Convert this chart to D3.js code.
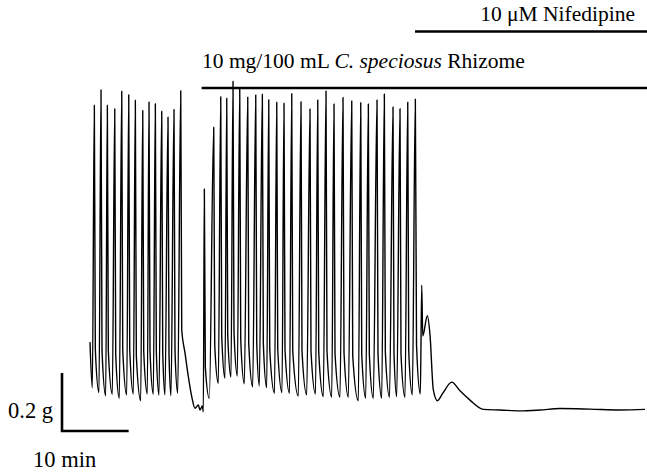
<!DOCTYPE html>
<html>
<head>
<meta charset="utf-8">
<script src="https://cdn.jsdelivr.net/npm/d3@7"></script>
<style>
body { margin: 0; background: #fff; }
svg text { font-family: "Liberation Serif", "Times New Roman", serif; font-size: 21.5px; fill: #000; }
svg text.scale-label { font-size: 22.5px; }
</style>
</head>
<body>
<div id="chart"></div>
<script>
// time in min, tension in g
var startPoint = [0.00, 0.234];

// control twitches: trough before each peak, then the peak
var ctrlTroughs = [[0.35,0.076],[1.35,0.060],[2.36,0.049],[3.35,0.054],[4.40,0.040],[5.51,0.052],[6.50,0.055],
    [7.61,0.032],[8.60,0.055],[9.50,0.054],[10.35,0.051],[11.25,0.052],[12.15,0.049],[13.16,0.058]];
var ctrlPeaks = [[0.65,1.051],[1.65,1.104],[2.60,1.051],[3.71,1.039],[4.76,1.099],[5.81,1.087],[6.80,1.068],
    [7.91,1.033],[8.85,1.062],[9.80,1.056],[10.76,1.030],[11.70,1.010],[12.60,1.036],[13.61,1.101]];

// relaxation before the extract goes in
var washDecay = [[13.76,0.276],[14.25,0.197],[14.75,0.115],[15.26,0.046],[15.75,0.006],[16.25,0.017],
    [16.50,0.000],[16.85,0.014]];

// twitches with C. speciosus rhizome extract
var drugTroughs = [[17.00,-0.006],[17.90,0.040],[19.25,0.092],[20.25,0.109],[21.15,0.113],[22.10,0.117],[23.15,0.090],
    [24.41,0.080],[25.40,0.083],[26.51,0.077],[27.68,0.058],[28.80,0.060],[29.93,0.058],[31.25,0.048],
    [32.51,0.052],[33.83,0.055],[35.00,0.046],[36.26,0.044],[37.50,0.044],[38.75,0.044],[40.25,0.032],
    [41.36,0.040],[42.50,0.040],[43.76,0.040],[44.93,0.044],[46.01,0.046],[47.25,0.044],[48.35,0.052]];
var drugPeaks = [[17.15,0.762],[18.56,0.975],[19.61,1.080],[20.51,1.075],[21.45,1.134],[22.46,1.109],[23.66,1.079],
    [24.86,1.086],[25.85,1.089],[26.81,1.070],[28.01,1.061],[29.10,1.058],[30.26,1.091],[31.65,1.063],
    [33.00,1.038],[34.16,1.069],[35.40,1.100],[36.60,1.055],[37.95,1.078],[39.26,1.066],[40.61,1.060],
    [41.75,1.055],[43.05,1.069],[44.15,1.090],[45.45,1.045],[46.50,1.039],[47.66,1.061],[48.80,1.072]];

// after nifedipine
var nifTail = [[48.98,0.224],[49.55,0.055],[49.76,0.431],[49.91,0.255],[50.60,0.325],[51.00,0.259],[51.50,0.069],
    [52.10,0.032],[52.95,0.059],[54.26,0.096],[55.50,0.066],[57.00,0.034],[59.00,0.002],[61.50,0.000],
    [64.50,-0.003],[67.50,0.000],[70.50,0.005],[75.00,0.003],[79.50,0.000],[83.25,0.002]];

var treatments = [
    { label: "nif", start: 48.75, row: 0 },
    { label: "rhz", start: 16.75, row: 1 }
];

var w = 647, h = 472;

var svg = d3.select("#chart").append("svg")
    .attr("width", w)
    .attr("height", h);

var x = d3.scaleLinear().domain([0, 83.25]).range([90, 645]);
var y = d3.scaleLinear().domain([0, 1.2]).range([410, 62]);

//each twitch: trough, peak, then a quick fall before easing into the next trough
function twitches(troughs, peaks) {
    var pts = [];
    for (var i = 0; i < peaks.length; i++) {
        pts.push(troughs[i]);
        pts.push(peaks[i]);
        if (i < peaks.length - 1) {
            var nt = troughs[i + 1];
            pts.push([peaks[i][0] + 0.15, nt[1] + 0.15 * (peaks[i][1] - nt[1])]);
        }
    }
    return pts;
}

var trace = [startPoint]
    .concat(twitches(ctrlTroughs, ctrlPeaks))
    .concat(washDecay)
    .concat(twitches(drugTroughs, drugPeaks))
    .concat(nifTail);

var line = d3.line()
    .x(function(d) { return x(d[0]); })
    .y(function(d) { return y(d[1]); })
    .curve(d3.curveMonotoneX);

svg.append("path")
    .datum(trace)
    .attr("fill", "none")
    .attr("stroke", "#000")
    .attr("stroke-width", 1.4)
    .attr("stroke-linejoin", "round")
    .attr("d", line);

// treatment bars
var rowY = [31.5, 88];
svg.selectAll(".treat")
    .data(treatments)
    .enter()
    .append("line")
    .attr("class", "treat")
    .attr("x1", function(d) { return x(d.start); })
    .attr("x2", w)
    .attr("y1", function(d) { return rowY[d.row]; })
    .attr("y2", function(d) { return rowY[d.row]; })
    .attr("stroke", "#000")
    .attr("stroke-width", 2.6);

svg.append("text")
    .attr("x", 635)
    .attr("y", 21)
    .attr("text-anchor", "end")
    .text("10 \u03BCM Nifedipine");

var rt = svg.append("text")
    .attr("x", 202)
    .attr("y", 68);
rt.append("tspan").text("10 mg/100 mL ");
rt.append("tspan").attr("font-style", "italic").text("C. speciosus");
rt.append("tspan").text(" Rhizome");

// scale bar
var sx = 62, sy = 431;
svg.append("path")
    .attr("d", "M" + sx + "," + (sy - (y(0) - y(0.2))) + "L" + sx + "," + sy +
        "L" + (sx + x(10) - x(0)) + "," + sy)
    .attr("fill", "none")
    .attr("stroke", "#000")
    .attr("stroke-width", 2.6);

svg.append("text")
    .attr("class", "scale-label")
    .attr("x", 53)
    .attr("y", 418)
    .attr("text-anchor", "end")
    .text("0.2 g");

svg.append("text")
    .attr("class", "scale-label")
    .attr("x", 33)
    .attr("y", 467)
    .text("10 min");
</script>
</body>
</html>
